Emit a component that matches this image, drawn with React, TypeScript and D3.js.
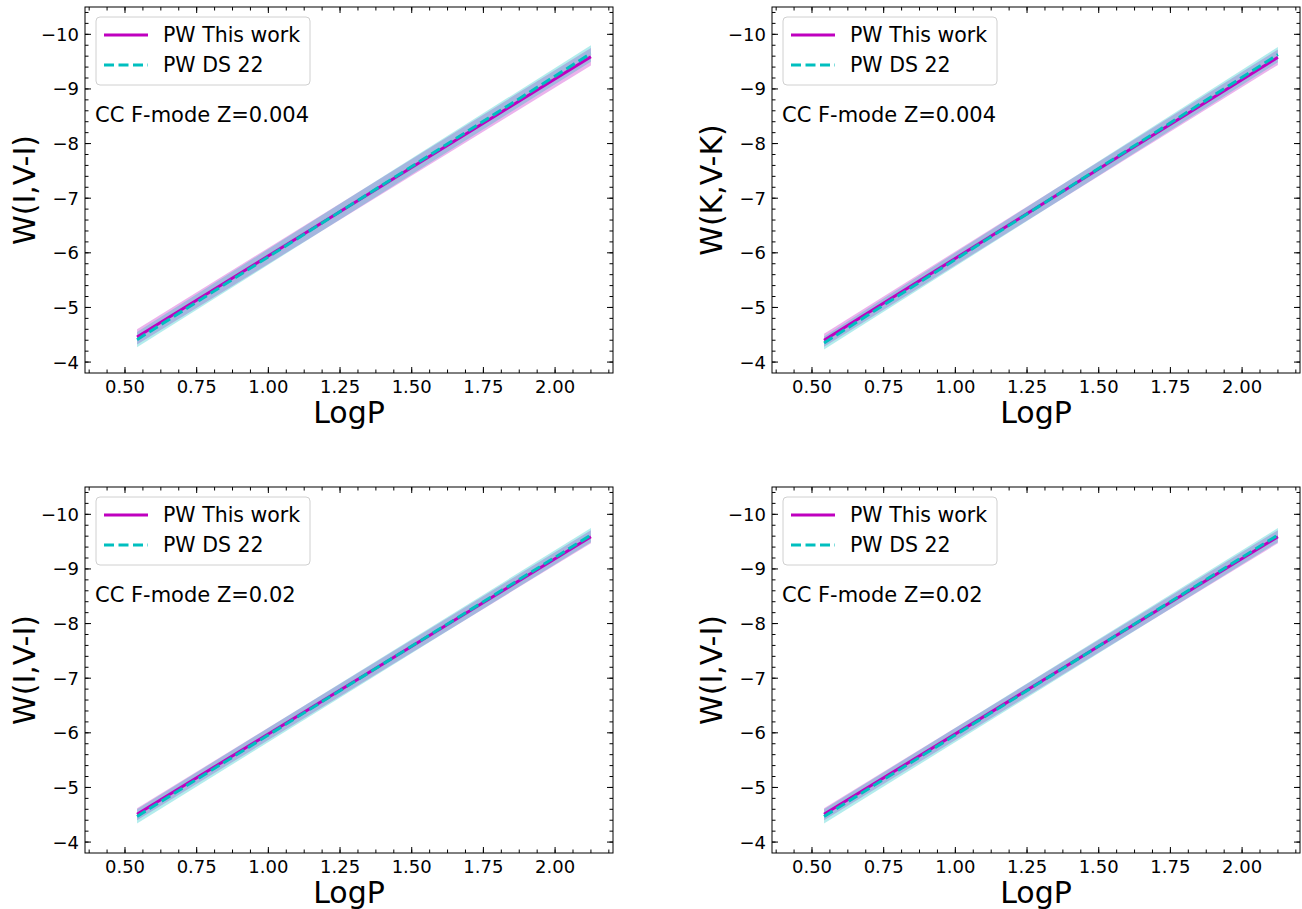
import React from "react";
import * as d3 from "d3";

// ---------- data ----------
const logPEnds = [0.542, 2.125];

const panelTitles = ["CC F-mode Z=0.004", "CC F-mode Z=0.004", "CC F-mode Z=0.02", "CC F-mode Z=0.02"];
const yLabels = ["W(I,V-I)", "W(K,V-K)", "W(I,V-I)", "W(I,V-I)"];

// "PW This work" values at the two logP ends
const thisWorkTL = [-4.46, -9.59];
const thisWorkTR = [-4.40, -9.58];
const thisWorkBL = [-4.51, -9.59];
const thisWorkBR = [-4.51, -9.59];
// half-widths of the band at the two ends
const thisWorkErrTL = [0.14, 0.16];
const thisWorkErrTR = [0.12, 0.14];
const thisWorkErrBL = [0.11, 0.12];
const thisWorkErrBR = [0.11, 0.12];

// "PW DS 22" values
const ds22TL = [-4.41, -9.65];
const ds22TR = [-4.35, -9.63];
const ds22BL = [-4.47, -9.62];
const ds22BR = [-4.47, -9.62];
const ds22ErrTL = [0.14, 0.15];
const ds22ErrTR = [0.12, 0.14];
const ds22ErrBL = [0.13, 0.13];
const ds22ErrBR = [0.13, 0.13];

const xTicks = [0.5, 0.75, 1.0, 1.25, 1.5, 1.75, 2.0];
const yTicks = [-10, -9, -8, -7, -6, -5, -4];
const legendLabels = ["PW This work", "PW DS 22"];

const xDomain = [0.3605, 2.202];
const yDomain = [-3.8, -10.5];

// ---------- layout ----------
const W = 528;
const H = 366;
const origins = [
  [85, 7],
  [772, 7],
  [85, 487],
  [772, 487],
];
const MAG = "#bf00bf";
const CYA = "#00bfbf";
const FONT = "DejaVu Sans, sans-serif";

const panels = [
  { tw: thisWorkTL, twE: thisWorkErrTL, ds: ds22TL, dsE: ds22ErrTL },
  { tw: thisWorkTR, twE: thisWorkErrTR, ds: ds22TR, dsE: ds22ErrTR },
  { tw: thisWorkBL, twE: thisWorkErrBL, ds: ds22BL, dsE: ds22ErrBL },
  { tw: thisWorkBR, twE: thisWorkErrBR, ds: ds22BR, dsE: ds22ErrBR },
];

function fmtY(v: number) {
  return v < 0 ? "\u2212" + Math.abs(v) : String(v);
}

function Panel({ idx }: { idx: number }) {
  const [ox, oy] = origins[idx];
  const p = panels[idx];
  const x = d3.scaleLinear().domain(xDomain).range([0, W]);
  const y = d3.scaleLinear().domain(yDomain).range([H, 0]);

  const pts = (vals: number[]) => logPEnds.map((lp, i) => ({ x: lp, y: vals[i] }));
  const line = d3.line<{ x: number; y: number }>().x((d) => x(d.x)).y((d) => y(d.y));
  const area = d3
    .area<{ x: number; lo: number; hi: number }>()
    .x((d) => x(d.x))
    .y0((d) => y(d.lo))
    .y1((d) => y(d.hi));
  const band = (vals: number[], err: number[]) =>
    logPEnds.map((lp, i) => ({ x: lp, lo: vals[i] - err[i], hi: vals[i] + err[i] }));

  const xMinor = d3.range(0.375, 2.21, 0.0625).filter((v) => v >= xDomain[0] && v <= xDomain[1]);
  const yMinor = d3.range(-10.4, -3.8, 0.2).filter((v) => v >= -10.5 && v <= -3.8);

  const maj = 6;
  const mnr = 3.5;

  return (
    <g transform={`translate(${ox},${oy})`}>
      <rect x={0} y={0} width={W} height={H} fill="white" />
      <path d={area(band(p.tw, p.twE)) || ""} fill={MAG} fillOpacity={0.3} stroke="none" />
      <path d={area(band(p.ds, p.dsE)) || ""} fill={CYA} fillOpacity={0.3} stroke="none" />
      <path d={line(pts(p.tw)) || ""} fill="none" stroke={MAG} strokeWidth={3} />
      <path d={line(pts(p.ds)) || ""} fill="none" stroke={CYA} strokeWidth={3} strokeDasharray="10,4.5" />

      {/* ticks */}
      <g stroke="black" strokeWidth={1}>
        {xTicks.map((t) => (
          <g key={"xt" + t}>
            <line x1={x(t)} x2={x(t)} y1={H} y2={H - maj} />
            <line x1={x(t)} x2={x(t)} y1={0} y2={maj} />
          </g>
        ))}
        {xMinor.map((t) => (
          <g key={"xm" + t}>
            <line x1={x(t)} x2={x(t)} y1={H} y2={H - mnr} />
            <line x1={x(t)} x2={x(t)} y1={0} y2={mnr} />
          </g>
        ))}
        {yTicks.map((t) => (
          <g key={"yt" + t}>
            <line x1={0} x2={maj} y1={y(t)} y2={y(t)} />
            <line x1={W} x2={W - maj} y1={y(t)} y2={y(t)} />
          </g>
        ))}
        {yMinor.map((t) => (
          <g key={"ym" + t}>
            <line x1={0} x2={mnr} y1={y(t)} y2={y(t)} />
            <line x1={W} x2={W - mnr} y1={y(t)} y2={y(t)} />
          </g>
        ))}
      </g>
      <rect x={0} y={0} width={W} height={H} fill="none" stroke="black" strokeWidth={1} />

      {/* tick labels */}
      <g fontFamily={FONT} fontSize={18} fill="black">
        {xTicks.map((t) => (
          <text key={"xl" + t} x={x(t)} y={H + 19.5} textAnchor="middle">
            {t.toFixed(2)}
          </text>
        ))}
        {yTicks.map((t) => (
          <text key={"yl" + t} x={-6} y={y(t) + 6.5} textAnchor="end">
            {fmtY(t)}
          </text>
        ))}
      </g>

      {/* axis labels */}
      <text x={W / 2} y={H + 50} textAnchor="middle" fontFamily={FONT} fontSize={30}>
        LogP
      </text>
      <text
        transform={`translate(${-50},${H / 2}) rotate(-90)`}
        textAnchor="middle"
        fontFamily={FONT}
        fontSize={30}
      >
        {yLabels[idx]}
      </text>

      {/* annotation */}
      <text x={10} y={115} fontFamily={FONT} fontSize={21}>
        {panelTitles[idx]}
      </text>

      {/* legend */}
      <g transform="translate(11,10)">
        <rect x={0} y={0} width={214} height={68} rx={4} fill="white" fillOpacity={0.8} stroke="#d0d0d0" strokeWidth={1} />
        <line x1={8} x2={52} y1={18} y2={18} stroke={MAG} strokeWidth={3} />
        <line x1={8} x2={52} y1={48} y2={48} stroke={CYA} strokeWidth={3} strokeDasharray="10,4.5" />
        <text x={67} y={25} fontFamily={FONT} fontSize={20.5}>
          {legendLabels[0]}
        </text>
        <text x={67} y={55} fontFamily={FONT} fontSize={20.5}>
          {legendLabels[1]}
        </text>
      </g>
    </g>
  );
}

export default function App() {
  return (
    <svg
      width={1302}
      height={909}
      style={{ position: "absolute", left: 0, top: 0, background: "white" }}
    >
      <rect width={1302} height={909} fill="white" />
      {[0, 1, 2, 3].map((i) => (
        <Panel key={i} idx={i} />
      ))}
    </svg>
  );
}
